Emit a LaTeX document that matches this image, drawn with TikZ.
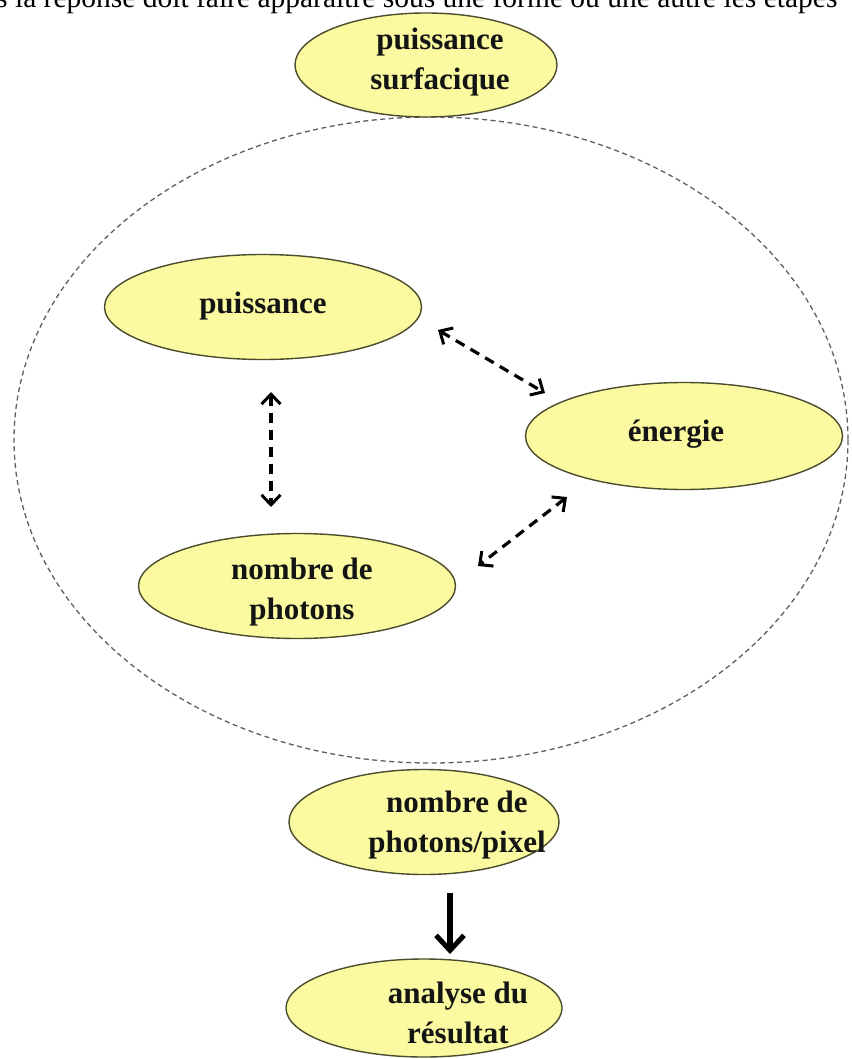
\documentclass[tikz,border=0pt]{standalone}
\usepackage{fontspec}
\setmainfont{Liberation Serif}
\usetikzlibrary{shapes.geometric,arrows.meta}
\definecolor{fillyel}{RGB}{252,250,160}
\definecolor{edgecol}{RGB}{75,75,45}
\definecolor{dashgray}{RGB}{95,95,95}
\begin{document}
\begin{tikzpicture}[x=1pt,y=-1pt,
  bubble/.style={ellipse, draw=edgecol, fill=fillyel, line width=1.4pt, inner sep=0pt},
  lbl/.style={font=\fontsize{31}{40}\selectfont\bfseries, align=center, text=black!92, inner sep=0pt},
  duo/.style={line width=3.2pt, dash pattern=on 10pt off 7pt,
    {Straight Barb[length=10pt,width=19pt,line width=3pt]}-{Straight Barb[length=10pt,width=19pt,line width=3pt]}},
  bigarrow/.style={line width=5.5pt, -{Straight Barb[length=15pt,width=28pt,line width=5pt]}}
]
\useasboundingbox (0,0) rectangle (851,1059);
\fill[white] (0,0) rectangle (851,1059);
\begin{scope}
  \clip (0,0) rectangle (851,1059);
  \node[anchor=base west, inner sep=0pt, font=\fontsize{29.5}{32}\selectfont] (hdr) at (-4,8)
    {s la réponse doit faire apparaître sous une forme ou une autre les étapes};
\end{scope}

% big dashed ellipse
\draw[dashgray, line width=1.3pt, dash pattern=on 5pt off 3.5pt] (431,440) ellipse [x radius=417, y radius=323];

% bubbles
\node[bubble, minimum width=262pt, minimum height=104pt] (ps) at (426,65) {};
\node[bubble, minimum width=317pt, minimum height=105pt] (pu) at (263,307) {};
\node[bubble, minimum width=317pt, minimum height=107pt] (en) at (684,436) {};
\node[bubble, minimum width=317pt, minimum height=105pt] (nb) at (297,586) {};
\node[bubble, minimum width=270pt, minimum height=105pt] (np) at (424,822) {};
\node[bubble, minimum width=276pt, minimum height=98pt] (an) at (424,1008) {};

% labels
\node[lbl] (tps) at (440,62) {puissance\\surfacique};
\node[lbl] (tpu) at (263,306) {puissance};
\node[lbl] (ten) at (676,434) {énergie};
\node[lbl] (tnb) at (302,592) {nombre de\\photons};
\node[lbl] (tnp) at (457,825) {nombre de\\photons/pixel};
\node[lbl] (tan) at (458,1013) {analyse du\\résultat};

% connector end points
\coordinate (a1) at (438,330);
\coordinate (a2) at (545,393);
\coordinate (b1) at (567,497);
\coordinate (b2) at (478,566);
\coordinate (c1) at (271,392);
\coordinate (c2) at (271,507);
\coordinate (d1) at (450,893);
\coordinate (d2) at (450,954);

\draw[duo] (a1) -- (a2);
\draw[duo] (b1) -- (b2);
\draw[duo] (c1) -- (c2);
\draw[bigarrow] (d1) -- (d2);
\end{tikzpicture}
\end{document}
